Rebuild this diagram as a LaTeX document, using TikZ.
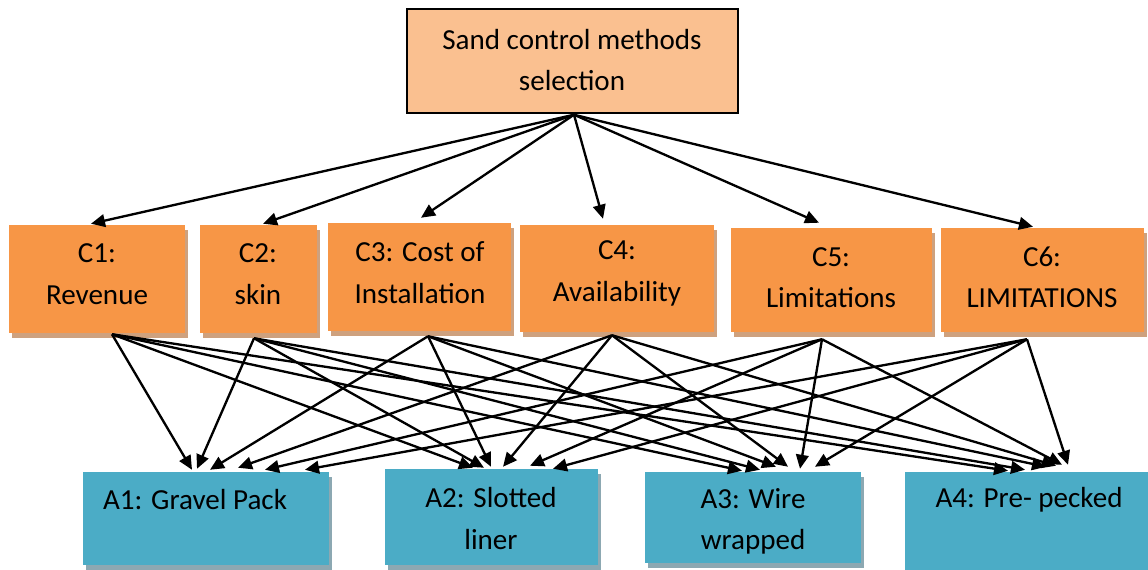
\documentclass[tikz,border=0pt]{standalone}
\usepackage{fontspec}
\setmainfont{Carlito}
\usetikzlibrary{arrows.meta,calc,shadows}
\definecolor{topfill}{RGB}{250,192,144}
\definecolor{critfill}{RGB}{247,150,70}
\definecolor{critshade}{RGB}{206,161,126}
\definecolor{altfill}{RGB}{75,172,198}
\definecolor{altshade}{RGB}{140,168,178}
\begin{document}
\begin{tikzpicture}[x=0.75pt,y=-0.75pt,
  boxsize/.style 2 args={rectangle,inner sep=0pt,minimum width={#1*0.75pt},minimum height={#2*0.75pt}},
  topbox/.style={fill=topfill,draw=black,line width=1.1pt},
  critbox/.style={fill=critfill,drop shadow={shadow xshift=2.6pt,shadow yshift=-3.5pt,fill=critshade,opacity=1}},
  altbox/.style={fill=altfill,drop shadow={shadow xshift=2.6pt,shadow yshift=-3.5pt,fill=altshade,opacity=1}},
  lbl/.style={inner sep=0pt,align=center,font=\fontsize{21.8}{31}\selectfont},
  arr/.style={line width=1.75pt,-{Triangle[length=10.5pt,width=9.5pt]}}]
\useasboundingbox (0,0) rectangle (1148,569);

% goal
\node[topbox,boxsize={331}{104}] (top) at (572.5,61) {};
\node[lbl] (top-t) at (572,60) {Sand control methods\\selection};

% criteria
\node[critbox,boxsize={176}{108}] (c1) at (97,279) {};
\node[critbox,boxsize={117}{108}] (c2) at (258.5,279) {};
\node[critbox,boxsize={183}{108}] (c3) at (419.5,277) {};
\node[critbox,boxsize={194}{107}] (c4) at (617,278.5) {};
\node[critbox,boxsize={201}{104}] (c5) at (831.5,280) {};
\node[critbox,boxsize={203}{104}] (c6) at (1042.5,280) {};
\node[lbl] (c1-t) at (97,274) {C1:\\Revenue};
\node[lbl] (c2-t) at (258,274) {C2:\\skin};
\node[lbl] (c3-t) at (420,272.5) {C3: Cost of\\Installation};
\node[lbl] (c4-t) at (617,273.5) {C4:\\Availability};
\node[lbl] (c5-t) at (831,277.5) {C5:\\Limitations};
\node[lbl] (c6-t) at (1042,277.5) {C6:\\LIMITATIONS};

% alternatives
\node[altbox,boxsize={246}{93}] (a1) at (206,518.5) {};
\node[altbox,boxsize={213}{96}] (a2) at (491.5,517) {};
\node[altbox,boxsize={216}{91}] (a3) at (753,517.5) {};
\node[altbox,boxsize={245}{99}] (a4) at (1027.5,521.5) {};
\node[lbl] (a1-t) at (195,500) {A1: Gravel Pack};
\node[lbl] (a2-t) at (491,518.5) {A2: Slotted\\liner};
\node[lbl] (a3-t) at (753,521.5) {A3: Wire\\wrapped};
\node[lbl] (a4-t) at (1029,500) {A4: Pre- pecked};

% goal -> criteria
\coordinate (hub) at ($(top.south)+(1.5,1)$);
\draw[arr] (hub) -- ($(c1.north)+(-6,-1)$);
\draw[arr] (hub) -- ($(c2.north)+(4.5,-1)$);
\draw[arr] (hub) -- ($(c3.north)+(1.5,-5)$);
\draw[arr] (hub) -- ($(c4.north)+(-14,-6)$);
\draw[arr] (hub) -- ($(c5.north)+(-12.5,-5)$);
\draw[arr] (hub) -- ($(c6.north)+(-9.5,-1)$);

% criteria -> alternatives
\coordinate (c1o) at ($(c1.south)+(15,1)$);
\coordinate (c2o) at ($(c2.south)+(-4.5,5)$);
\coordinate (c3o) at ($(c3.south)+(8.5,5)$);
\coordinate (c4o) at ($(c4.south)+(-5,3)$);
\coordinate (c5o) at ($(c5.south)+(-9.5,7)$);
\coordinate (c6o) at ($(c6.south)+(-15.5,7)$);

\draw[arr] (c1o) -- ($(a1.north)+(-14,-2)$);
\draw[arr] (c1o) -- ($(a2.north)+(-18.5,-1)$);
\draw[arr] (c1o) -- ($(a3.north)+(-11,-1)$);
\draw[arr] (c1o) -- ($(a4.north)+(-19.5,-1)$);

\draw[arr] (c2o) -- ($(a1.north)+(-9,-3)$);
\draw[arr] (c2o) -- ($(a2.north)+(-7.5,-1)$);
\draw[arr] (c2o) -- ($(a3.north)+(7,-2)$);
\draw[arr] (c2o) -- ($(a4.north)+(-2.5,-2)$);

\draw[arr] (c3o) -- ($(a1.north)+(4,-2)$);
\draw[arr] (c3o) -- ($(a2.north)+(-0.5,-2)$);
\draw[arr] (c3o) -- ($(a3.north)+(23,-5)$);
\draw[arr] (c3o) -- ($(a4.north)+(18.5,-5)$);

\draw[arr] (c4o) -- ($(a1.north)+(32,-4)$);
\draw[arr] (c4o) -- ($(a2.north)+(11.5,-2)$);
\draw[arr] (c4o) -- ($(a3.north)+(35,-5)$);
\draw[arr] (c4o) -- ($(a4.north)+(28.5,-6)$);

\draw[arr] (c5o) -- ($(a1.north)+(59,-2)$);
\draw[arr] (c5o) -- ($(a2.north)+(38.5,-3)$);
\draw[arr] (c5o) -- ($(a3.north)+(47,-3)$);
\draw[arr] (c5o) -- ($(a4.north)+(34.5,-7)$);

\draw[arr] (c6o) -- ($(a1.north)+(99,-2)$);
\draw[arr] (c6o) -- ($(a2.north)+(61.5,0)$);
\draw[arr] (c6o) -- ($(a3.north)+(62,-5)$);
\draw[arr] (c6o) -- ($(a4.north)+(40.5,-7)$);
\end{tikzpicture}
\end{document}
